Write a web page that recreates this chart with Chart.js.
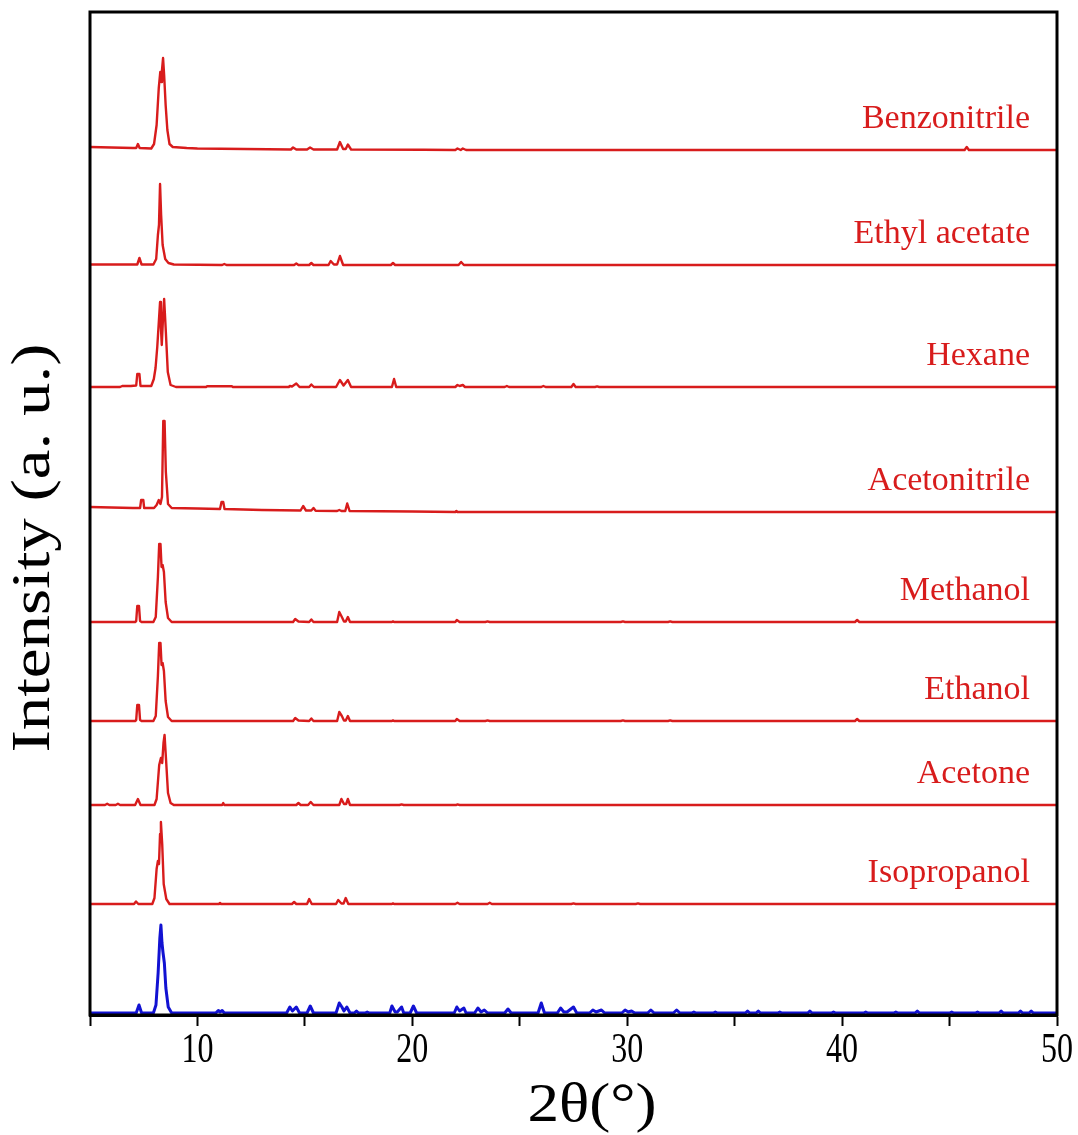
<!DOCTYPE html>
<html>
<head>
<meta charset="utf-8">
<script src="https://cdn.jsdelivr.net/npm/chart.js@4.4.0/dist/chart.umd.min.js"></script>
<style>
  html, body { margin: 0; padding: 0; background: #fff; }
  #wrap { width: 1078px; height: 1135px; }
</style>
</head>
<body>
<div id="wrap"><canvas id="xrdChart" width="1078" height="1135"></canvas></div>
<script>
// sample names, top to bottom
const sampleNames = ["Benzonitrile", "Ethyl acetate", "Hexane", "Acetonitrile", "Methanol", "Ethanol", "Acetone", "Isopropanol", ""];
// vertical stacking offset of each pattern (a. u.)
const sampleOffsets = [865, 750, 628, 503, 393, 294, 210, 111, 2];
const xTicks = [10, 20, 30, 40, 50];

// [2theta, intensity]
const benzonitrile = [[5,3],[6,2.5],[7,2],[7.15,2],[7.23,6],[7.31,2],[7.85,1.5],[7.98,6],[8.1,25],[8.2,62],[8.27,78],[8.31,68],[8.35,80],[8.4,92],[8.45,75],[8.52,45],[8.6,20],[8.7,6],[8.85,3],[9.5,2],[10,1.5],[14.35,0.5],[14.45,2.5],[14.6,0.5],[15.1,0.5],[15.24,2.5],[15.4,0.5],[16.5,0.5],[16.63,8],[16.78,1],[16.9,1],[17.0,5.5],[17.15,0.5],[20.5,0.3],[22.0,0],[22.1,1.5],[22.25,0],[22.35,1.5],[22.5,0],[45.7,0],[45.8,3],[45.9,0],[50,0]];
const ethylAcetate = [[5,0.5],[7.2,0.5],[7.3,7],[7.4,0.5],[7.95,0.5],[8.08,6],[8.16,30],[8.21,40],[8.26,81],[8.31,50],[8.38,20],[8.5,6],[8.65,2],[8.9,0.5],[11.15,0],[11.25,1],[11.35,0],[14.5,0],[14.6,1.5],[14.7,0],[15.2,0],[15.3,2],[15.4,0],[16.1,0],[16.2,4],[16.35,0.5],[16.5,0.5],[16.63,9],[16.78,0],[19.0,0],[19.1,2],[19.2,0],[22.15,0],[22.27,3],[22.4,0],[50,0]];
const hexane = [[5,0],[6.4,0],[6.5,1],[6.9,1],[7.15,1.5],[7.2,13],[7.3,13],[7.35,1],[7.85,1],[7.97,8],[8.05,19],[8.13,40],[8.26,85],[8.3,60],[8.34,42],[8.4,70],[8.45,88],[8.53,55],[8.62,15],[8.75,2],[9,0],[10.4,0],[10.45,0.8],[11.6,0.8],[11.65,0],[14.25,0],[14.3,1],[14.4,0.5],[14.6,3.5],[14.75,0],[15.2,0],[15.3,2.5],[15.42,0],[16.45,0],[16.63,7],[16.8,1.5],[17.0,7],[17.15,0],[19.05,0],[19.15,8],[19.25,0],[22.0,0],[22.1,2],[22.2,1],[22.35,2],[22.45,0],[24.3,0],[24.4,1],[24.5,0],[26.0,0],[26.1,1],[26.2,0],[27.4,0],[27.5,3],[27.6,0],[28.5,0],[28.6,0.6],[28.7,0],[50,0]];
const acetonitrile = [[5,5],[6,4.5],[7,4],[7.33,4],[7.38,12],[7.48,12],[7.52,4],[7.98,4],[8.1,7],[8.2,12],[8.28,8],[8.35,15],[8.41,91],[8.47,91],[8.53,40],[8.63,8],[8.8,4],[10,3.5],[11.05,3],[11.12,10],[11.2,10],[11.26,3],[13,2],[14.8,1.5],[14.92,6],[15.05,1.5],[15.3,1.5],[15.4,4],[15.5,1.2],[16.5,1],[16.6,2],[16.7,1],[16.88,1],[16.97,8.5],[17.08,1],[20,0.5],[22.0,0],[22.05,1],[22.1,0],[25,0],[50,0]];
const methanol = [[5,0],[7.1,0],[7.15,1],[7.2,16],[7.28,16],[7.33,1],[7.4,0],[7.95,0],[8.06,5],[8.16,45],[8.22,78],[8.28,78],[8.33,55],[8.38,57],[8.44,50],[8.52,20],[8.63,4],[8.8,0],[14.45,0],[14.55,3],[14.7,0.5],[15.2,0],[15.3,2.5],[15.4,0],[16.5,0],[16.6,10],[16.72,5],[16.82,0.5],[16.9,0.5],[17.0,5],[17.1,0],[19.05,0],[19.1,0.6],[19.15,0],[22.0,0],[22.07,2],[22.2,0],[23.4,0],[23.5,0.6],[23.6,0],[29.7,0],[29.8,0.6],[29.9,0],[31.9,0],[32.0,0.6],[32.1,0],[40.6,0],[40.7,2],[40.8,0],[50,0]];
const ethanol = [[5,0],[7.1,0],[7.15,1],[7.2,16],[7.28,16],[7.33,1],[7.4,0],[7.95,0],[8.06,5],[8.16,45],[8.22,78],[8.28,78],[8.33,56],[8.38,58],[8.44,50],[8.52,20],[8.63,4],[8.8,0],[14.45,0],[14.55,3],[14.7,0.5],[15.2,0],[15.3,2.5],[15.4,0],[16.5,0],[16.6,9],[16.72,5],[16.82,0.5],[16.9,0.5],[17.0,5],[17.1,0],[19.05,0],[19.1,0.6],[19.15,0],[22.0,0],[22.07,2],[22.2,0],[23.4,0],[23.5,0.6],[23.6,0],[29.7,0],[29.8,0.6],[29.9,0],[31.9,0],[32.0,0.6],[32.1,0],[40.6,0],[40.7,2],[40.8,0],[50,0]];
const acetone = [[5,0],[5.7,0],[5.8,1.2],[5.9,0],[6.2,0],[6.3,1.2],[6.4,0],[7.1,0],[7.23,6],[7.35,0],[8.0,0],[8.1,6],[8.22,40],[8.3,47],[8.36,42],[8.42,62],[8.47,70],[8.54,45],[8.63,12],[8.75,2],[8.9,0],[11.15,0],[11.2,2],[11.25,0],[14.6,0],[14.7,2],[14.8,0],[15.15,0],[15.27,3],[15.4,0],[16.6,0],[16.7,6],[16.82,1],[16.92,1],[17.0,6],[17.1,0],[19.4,0],[19.5,0.6],[19.6,0],[22.05,0],[22.1,0.6],[22.2,0],[50,0]];
const isopropanol = [[5,0],[7.05,0],[7.14,2.5],[7.25,0],[7.9,0],[8.0,6],[8.1,35],[8.16,43],[8.21,40],[8.26,70],[8.3,82],[8.36,60],[8.43,20],[8.55,5],[8.7,0],[11.0,0],[11.05,1],[11.1,0],[14.4,0],[14.5,2],[14.6,0],[15.1,0],[15.2,5],[15.32,0],[16.45,0],[16.55,4],[16.7,0.5],[16.8,0.5],[16.9,6],[17.02,0],[19.05,0],[19.1,0.6],[19.15,0],[22.0,0],[22.1,1.2],[22.2,0],[23.5,0],[23.6,1.2],[23.7,0],[27.4,0],[27.5,0.6],[27.6,0],[30.4,0],[30.5,0.6],[30.6,0],[50,0]];
const simulated = [[5,0],[7.15,0],[7.28,8],[7.4,0],[7.95,0],[8.07,8],[8.17,40],[8.25,75],[8.3,88],[8.35,70],[8.4,60],[8.46,50],[8.53,25],[8.64,6],[8.8,0],[10.85,0],[10.97,2.5],[11.05,1],[11.15,2.5],[11.25,0],[14.15,0],[14.3,6],[14.42,2],[14.6,6],[14.75,0],[15.1,0],[15.25,7],[15.4,0],[16.45,0],[16.6,10],[16.72,6],[16.82,2],[16.95,6],[17.1,0],[17.3,0],[17.4,2],[17.5,0],[17.8,0],[17.9,1],[18,0],[18.95,0],[19.05,7],[19.2,1],[19.3,1],[19.5,6],[19.6,0],[19.9,0],[20.05,7],[20.2,0],[21.95,0],[22.07,6],[22.2,2],[22.4,5],[22.5,0],[22.9,0],[23.05,5],[23.2,1],[23.35,3],[23.5,0],[24.3,0],[24.45,4],[24.6,0],[25.85,0],[26.0,10],[26.15,0],[26.75,0],[26.9,5],[27.05,1],[27.2,1],[27.5,6],[27.65,0],[28.25,0],[28.4,3],[28.55,1],[28.8,3],[28.95,0],[29.75,0],[29.9,3],[30.05,1],[30.2,2],[30.35,0],[30.95,0],[31.1,3],[31.25,0],[32.15,0],[32.3,3],[32.45,0],[33,0],[33.1,1],[33.2,0],[34,0],[34.1,1],[34.2,0],[35.5,0],[35.6,2],[35.7,0],[36.0,0],[36.1,2],[36.2,0],[37,0],[37.1,1],[37.2,0],[38.4,0],[38.5,2],[38.6,0],[39.5,0],[39.6,1],[39.7,0],[41,0],[41.1,1],[41.2,0],[42.4,0],[42.5,1],[42.6,0],[43.4,0],[43.5,2],[43.6,0],[45,0],[45.1,1],[45.2,0],[46.2,0],[46.3,1],[46.4,0],[47.3,0],[47.4,2],[47.5,0],[48.2,0],[48.3,2],[48.4,0],[48.7,0],[48.8,2],[48.9,0],[50,0]];

const patterns = [benzonitrile, ethylAcetate, hexane, acetonitrile, methanol, ethanol, acetone, isopropanol, simulated];

const RED = "#d81c1c";
const BLUE = "#1212d2";
const FONT = "'Liberation Serif', 'Times New Roman', serif";

// stretched text helper (the original figure's lettering is taller than the font)
function drawText(ctx, text, x, y, sx, sy, rot) {
  ctx.save();
  ctx.translate(x, y);
  if (rot) ctx.rotate(rot);
  ctx.scale(sx, sy);
  ctx.fillText(text, 0, 0);
  ctx.restore();
}

// sample names, frame, tick labels and axis titles
const decorations = {
  id: "decorations",
  afterDatasetsDraw(chart) {
    const { ctx, chartArea, scales } = chart;
    ctx.save();
    ctx.font = "34px " + FONT;
    ctx.fillStyle = RED;
    ctx.textAlign = "right";
    ctx.textBaseline = "alphabetic";
    sampleNames.forEach((name, i) => {
      if (!name) return;
      const y = scales.y.getPixelForValue(sampleOffsets[i]) - 22;
      ctx.fillText(name, chartArea.right - 27, y);
    });

    ctx.strokeStyle = "#000";
    ctx.lineWidth = 3;
    ctx.strokeRect(chartArea.left, chartArea.top, chartArea.right - chartArea.left, chartArea.bottom - chartArea.top);

    ctx.fillStyle = "#000";
    ctx.textAlign = "center";
    ctx.font = "32px " + FONT;
    xTicks.forEach(v => {
      drawText(ctx, String(v), scales.x.getPixelForValue(v), chartArea.bottom + 47, 1, 1.33, 0);
    });

    ctx.textBaseline = "middle";
    ctx.font = "54px " + FONT;
    drawText(ctx, "2θ(°)", 592, 1107, 1.17, 1, 0);
    drawText(ctx, "Intensity (a. u.)", 35, 548, 1.24, 1, -Math.PI / 2);
    ctx.restore();
  }
};

const datasets = patterns.map((pts, i) => ({
  label: sampleNames[i] || "Simulated",
  data: pts.map(p => ({ x: p[0], y: p[1] + sampleOffsets[i] })),
  borderColor: i === patterns.length - 1 ? BLUE : RED,
  borderWidth: i === patterns.length - 1 ? 3 : 2.4,
  borderJoinStyle: "round",
  pointRadius: 0,
  tension: 0,
  fill: false
}));

new Chart(document.getElementById("xrdChart").getContext("2d"), {
  type: "line",
  data: { datasets },
  options: {
    responsive: false,
    animation: false,
    events: [],
    layout: { padding: { top: 12, right: 21, left: 90, bottom: 0 } },
    plugins: { legend: { display: false }, tooltip: { enabled: false } },
    scales: {
      x: {
        type: "linear",
        min: 5,
        max: 50,
        afterFit: (scale) => { scale.height = 120; },
        afterBuildTicks: (scale) => {
          const t = [];
          for (let v = 5; v <= 50; v += 5) t.push({ value: v });
          scale.ticks = t;
        },
        ticks: { display: false, autoSkip: false },
        grid: { drawOnChartArea: false, drawTicks: true, tickLength: 11, tickWidth: 2, tickColor: "#000" },
        border: { display: true, color: "#000", width: 3 }
      },
      y: {
        display: false,
        min: 0,
        max: 1003
      }
    }
  },
  plugins: [decorations]
});
</script>
</body>
</html>
